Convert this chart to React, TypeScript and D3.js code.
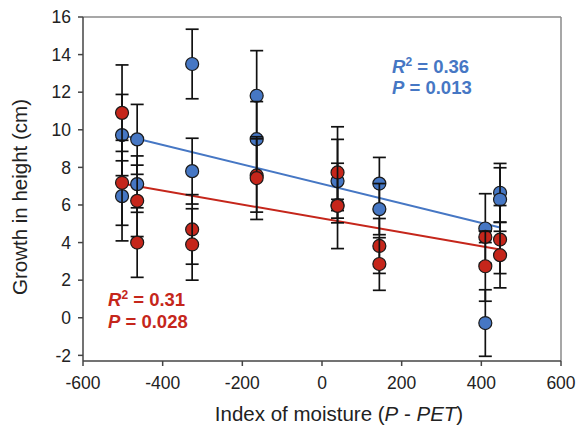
import React from "react";
import * as d3 from "d3";

// moisture index (P - PET) for each site
const moisture = [-502, -464, -326, -164, 39, 144, 410, 447];

// blue series (two years)
const blueA = [9.72, 9.49, 13.5, 11.81, 7.27, 7.14, 4.75, 6.65];
const blueAErr = [2.16, 1.86, 1.85, 2.4, 2.22, 1.39, 1.85, 1.56];
const blueB = [6.47, 7.11, 7.8, 9.5, 6.0, 5.78, -0.28, 6.29];
const blueBErr = [2.38, 1.5, 1.75, 2.0, 0.3, 1.36, 1.77, 1.69];

// red series (two years)
const redA = [10.9, 6.22, 4.7, 7.57, 7.73, 3.82, 4.3, 4.16];
const redAErr = [2.55, 1.9, 1.85, 1.95, 2.43, 1.46, 0.3, 1.81];
const redB = [7.18, 4.0, 3.9, 7.43, 5.95, 2.86, 2.74, 3.33];
const redBErr = [2.26, 1.85, 1.9, 2.2, 2.27, 1.4, 1.86, 1.74];

// regression fits
const blueFit = { slope: -0.005185, intercept: 7.117 };
const redFit = { slope: -0.003699, intercept: 5.283 };

const xTicks = [-600, -400, -200, 0, 200, 400, 600];
const yTicks = [-2, 0, 2, 4, 6, 8, 10, 12, 14, 16];

const BLUE = "#4677c4";
const RED = "#c5261b";
const FONT = "'Liberation Sans', Arial, sans-serif";

export default function App() {
  const width = 577;
  const height = 427;
  const margin = { top: 17, right: 16, bottom: 66, left: 83 };

  const x = d3.scaleLinear().domain([-600, 600]).range([margin.left, width - margin.right]);
  const y = d3.scaleLinear().domain([-2.3, 16]).range([height - margin.bottom, margin.top]);

  const xMin = d3.min(moisture)!;
  const xMax = d3.max(moisture)!;

  const fitLine = (fit: { slope: number; intercept: number }) =>
    d3.line<number>()
      .x(d => x(d))
      .y(d => y(fit.intercept + fit.slope * d))([xMin, xMax]);

  const series = [
    { vals: blueA, errs: blueAErr, color: BLUE },
    { vals: blueB, errs: blueBErr, color: BLUE },
    { vals: redA, errs: redAErr, color: RED },
    { vals: redB, errs: redBErr, color: RED },
  ];

  const cap = 6.5;

  return (
    <svg width={width} height={height} style={{ position: "absolute", left: 0, top: 0, background: "#fff" }}
      fontFamily={FONT}>
      {/* frame */}
      <line x1={margin.left} x2={width - margin.right} y1={margin.top} y2={margin.top} stroke="#8a8a8a" strokeWidth={1.5} />
      <line x1={width - margin.right} x2={width - margin.right} y1={margin.top} y2={height - margin.bottom} stroke="#8a8a8a" strokeWidth={1.5} />

      {/* axes */}
      <line x1={margin.left} x2={margin.left} y1={margin.top} y2={height - margin.bottom} stroke="#444" strokeWidth={1.5} />
      <line x1={margin.left} x2={width - margin.right} y1={height - margin.bottom} y2={height - margin.bottom} stroke="#444" strokeWidth={1.5} />

      {yTicks.map(t => (
        <g key={"y" + t}>
          <line x1={margin.left - 5} x2={margin.left} y1={y(t)} y2={y(t)} stroke="#444" strokeWidth={1.5} />
          <text x={margin.left - 12} y={y(t)} dy="0.36em" textAnchor="end" fontSize={17.5} fill="#222">{t}</text>
        </g>
      ))}
      {xTicks.map(t => (
        <g key={"x" + t}>
          <line x1={x(t)} x2={x(t)} y1={height - margin.bottom} y2={height - margin.bottom + 5} stroke="#444" strokeWidth={1.5} />
          <text x={x(t)} y={389} textAnchor="middle" fontSize={17.5} fill="#222">{t}</text>
        </g>
      ))}

      <text x={339} y={421} textAnchor="middle" fontSize={20.5} fill="#222">
        Index of moisture (<tspan fontStyle="italic">P</tspan> - <tspan fontStyle="italic">PET</tspan>)
      </text>
      <text transform={`translate(27,197) rotate(-90)`} textAnchor="middle" fontSize={20.5} fill="#222">
        Growth in height (cm)
      </text>

      {/* regression lines */}
      <path d={fitLine(blueFit) ?? ""} fill="none" stroke={BLUE} strokeWidth={2} />
      <path d={fitLine(redFit) ?? ""} fill="none" stroke={RED} strokeWidth={2} />

      {/* points with error bars */}
      {series.map((s, si) => (
        <g key={"s" + si}>
          {s.vals.map((v, i) => {
            const cx = x(moisture[i]);
            const top = y(v + s.errs[i]);
            const bot = y(v - s.errs[i]);
            return (
              <g key={i} stroke="#111" strokeWidth={1.7}>
                <line x1={cx} x2={cx} y1={top} y2={bot} />
                <line x1={cx - cap} x2={cx + cap} y1={top} y2={top} />
                <line x1={cx - cap} x2={cx + cap} y1={bot} y2={bot} />
              </g>
            );
          })}
          {s.vals.map((v, i) => (
            <circle key={"c" + i} cx={x(moisture[i])} cy={y(v)} r={6.5} fill={s.color} stroke="#1a1a1a" strokeWidth={1.2} />
          ))}
        </g>
      ))}

      {/* statistics */}
      <text x={392} y={73} fontSize={18.5} fontWeight="bold" fill={BLUE}>
        <tspan fontStyle="italic">R</tspan><tspan fontSize={12} dy={-7}>2</tspan><tspan dy={7}> = 0.36</tspan>
      </text>
      <text x={392} y={94} fontSize={18.5} fontWeight="bold" fill={BLUE}>
        <tspan fontStyle="italic">P</tspan> = 0.013
      </text>
      <text x={108} y={306} fontSize={18.5} fontWeight="bold" fill={RED}>
        <tspan fontStyle="italic">R</tspan><tspan fontSize={12} dy={-7}>2</tspan><tspan dy={7}> = 0.31</tspan>
      </text>
      <text x={108} y={328} fontSize={18.5} fontWeight="bold" fill={RED}>
        <tspan fontStyle="italic">P</tspan> = 0.028
      </text>
    </svg>
  );
}
